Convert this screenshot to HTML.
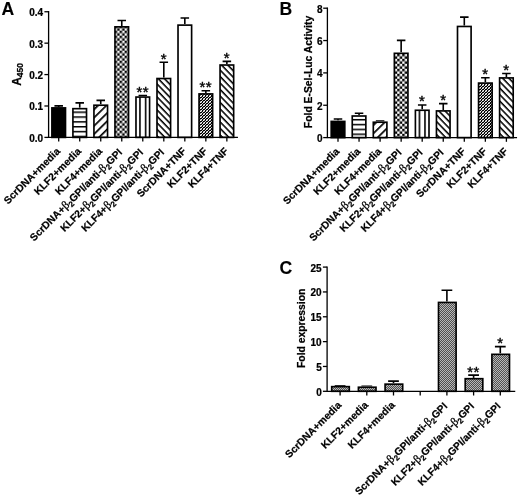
<!DOCTYPE html>
<html lang="en"><head><meta charset="utf-8"><title>Figure</title>
<style>html,body{margin:0;padding:0;background:#fff}svg{display:block;will-change:transform}text{font-family:"Liberation Sans",Arial,Helvetica,sans-serif;font-weight:bold;fill:#000;stroke:#000;stroke-width:0.22px}</style></head><body>
<svg width="520" height="496" viewBox="0 0 520 496">
<rect width="520" height="496" fill="#fff"/>
<text x="1.4" y="14.9" font-size="17.6" style="stroke-width:0.1px">A</text>
<text transform="translate(20.7 74.4) rotate(-90)" text-anchor="middle" font-size="12">A<tspan font-size="8.5" dy="2.4">450</tspan></text>
<defs><pattern id="p1" width="4.85" height="4.85" patternUnits="userSpaceOnUse" patternTransform="translate(0 111.45)"><rect width="4.85" height="4.85" fill="#fff"/><rect width="4.85" height="1.5" fill="#000"/></pattern></defs>
<defs><pattern id="p2" width="5.85" height="5.85" patternUnits="userSpaceOnUse" patternTransform="translate(94.6 117.1) rotate(-44.5) translate(0 -0.85)"><rect width="5.85" height="5.85" fill="#fff"/><rect width="5.85" height="1.7" fill="#000"/></pattern></defs>
<defs><pattern id="p3" width="5" height="5" patternUnits="userSpaceOnUse" patternTransform="translate(119.6 30.7)"><rect width="5" height="5" fill="#fff"/><rect width="2.5" height="2.5" fill="#000"/><rect x="2.5" y="2.5" width="2.5" height="2.5" fill="#000"/></pattern></defs>
<defs><pattern id="p4" width="5.6" height="5.6" patternUnits="userSpaceOnUse" patternTransform="translate(144.78 0)"><rect width="5.6" height="5.6" fill="#fff"/><rect width="1.6" height="5.6" fill="#000"/></pattern></defs>
<defs><pattern id="p5" width="4.5" height="4.5" patternUnits="userSpaceOnUse" patternTransform="translate(157.8 84.7) rotate(46) translate(0 -0.78)"><rect width="4.5" height="4.5" fill="#fff"/><rect width="4.5" height="1.55" fill="#000"/></pattern></defs>
<defs><pattern id="p6" width="3" height="3" patternUnits="userSpaceOnUse" patternTransform="translate(200 101)"><rect width="3" height="3" fill="#000"/><rect x="0" y="1" width="1" height="1" fill="#fff"/><rect x="1" y="0" width="1" height="1" fill="#fff"/><rect x="2" y="2" width="1" height="1" fill="#d8d8d8"/><rect x="0" y="0" width="1" height="1" fill="#808080"/><rect x="1" y="1" width="1" height="1" fill="#808080"/></pattern></defs>
<defs><pattern id="p7" width="4.5" height="4.5" patternUnits="userSpaceOnUse" patternTransform="translate(220.7 83.6) rotate(46) translate(0 -0.78)"><rect width="4.5" height="4.5" fill="#fff"/><rect width="4.5" height="1.55" fill="#000"/></pattern></defs>
<path d="M58.7 107.09 V105.83 M54.44 105.83 H62.96" stroke="#000" stroke-width="1.6" fill="none"/>
<rect x="51.1" y="107.09" width="15.2" height="30.31" fill="#fff"/>
<rect x="51.9" y="107.89" width="13.6" height="29.51" fill="#000" stroke="#000" stroke-width="1.65"/>
<path d="M79.72 107.87 V102.85 M75.46 102.85 H83.98" stroke="#000" stroke-width="1.6" fill="none"/>
<rect x="72.12" y="107.87" width="15.2" height="29.53" fill="#fff"/>
<rect x="72.92" y="108.67" width="13.6" height="28.73" fill="url(#p1)" stroke="#000" stroke-width="1.65"/>
<path d="M100.74 104.42 V100.33 M96.48 100.33 H105" stroke="#000" stroke-width="1.6" fill="none"/>
<rect x="93.14" y="104.42" width="15.2" height="32.98" fill="#fff"/>
<rect x="93.94" y="105.22" width="13.6" height="32.18" fill="url(#p2)" stroke="#000" stroke-width="1.65"/>
<path d="M121.76 26.04 V20.55 M117.5 20.55 H126.02" stroke="#000" stroke-width="1.6" fill="none"/>
<rect x="114.16" y="26.04" width="15.2" height="111.36" fill="#fff"/>
<rect x="114.96" y="26.84" width="13.6" height="110.56" fill="url(#p3)" stroke="#000" stroke-width="1.65"/>
<path d="M142.78 96.25 V95.62 M138.52 95.62 H147.04" stroke="#000" stroke-width="1.6" fill="none"/>
<rect x="135.18" y="96.25" width="15.2" height="41.15" fill="#fff"/>
<rect x="135.98" y="97.05" width="13.6" height="40.35" fill="url(#p4)" stroke="#000" stroke-width="1.65"/>
<text x="142.78" y="96.97" text-anchor="middle" font-size="15" style="font-weight:normal;stroke-width:0.4px;letter-spacing:0.4px">**</text>
<path d="M163.8 77.72 V62.32 M159.54 62.32 H168.06" stroke="#000" stroke-width="1.6" fill="none"/>
<rect x="156.2" y="77.72" width="15.2" height="59.68" fill="#fff"/>
<rect x="157" y="78.52" width="13.6" height="58.88" fill="url(#p5)" stroke="#000" stroke-width="1.65"/>
<text x="163.8" y="63.67" text-anchor="middle" font-size="15" style="font-weight:normal;stroke-width:0.4px;letter-spacing:0.4px">*</text>
<path d="M184.82 24.32 V18.03 M180.56 18.03 H189.08" stroke="#000" stroke-width="1.6" fill="none"/>
<rect x="177.22" y="24.32" width="15.2" height="113.08" fill="#fff"/>
<rect x="178.02" y="25.12" width="13.6" height="112.28" fill="#fff" stroke="#000" stroke-width="1.65"/>
<path d="M205.84 93.11 V90.75 M201.58 90.75 H210.1" stroke="#000" stroke-width="1.6" fill="none"/>
<rect x="198.24" y="93.11" width="15.2" height="44.29" fill="#fff"/>
<rect x="199.04" y="93.91" width="13.6" height="43.49" fill="url(#p6)" stroke="#000" stroke-width="1.65"/>
<text x="205.84" y="92.1" text-anchor="middle" font-size="15" style="font-weight:normal;stroke-width:0.4px;letter-spacing:0.4px">**</text>
<path d="M226.86 64.21 V61.38 M222.6 61.38 H231.12" stroke="#000" stroke-width="1.6" fill="none"/>
<rect x="219.26" y="64.21" width="15.2" height="73.19" fill="#fff"/>
<rect x="220.06" y="65.01" width="13.6" height="72.39" fill="url(#p7)" stroke="#000" stroke-width="1.65"/>
<text x="226.86" y="62.73" text-anchor="middle" font-size="15" style="font-weight:normal;stroke-width:0.4px;letter-spacing:0.4px">*</text>
<path d="M48.6 11.75 V137.4 H237.3" stroke="#000" stroke-width="1.3" fill="none" stroke-linecap="square"/>
<path d="M44.4 137.4 H48.6" stroke="#000" stroke-width="1.3"/>
<text x="43.2" y="141.8" text-anchor="end" font-size="10">0.0</text>
<path d="M44.4 105.99 H48.6" stroke="#000" stroke-width="1.3"/>
<text x="43.2" y="110.39" text-anchor="end" font-size="10">0.1</text>
<path d="M44.4 74.58 H48.6" stroke="#000" stroke-width="1.3"/>
<text x="43.2" y="78.98" text-anchor="end" font-size="10">0.2</text>
<path d="M44.4 43.16 H48.6" stroke="#000" stroke-width="1.3"/>
<text x="43.2" y="47.56" text-anchor="end" font-size="10">0.3</text>
<path d="M44.4 11.75 H48.6" stroke="#000" stroke-width="1.3"/>
<text x="43.2" y="16.15" text-anchor="end" font-size="10">0.4</text>
<path d="M58.7 137.4 V141.6" stroke="#000" stroke-width="1.3"/>
<path d="M79.72 137.4 V141.6" stroke="#000" stroke-width="1.3"/>
<path d="M100.74 137.4 V141.6" stroke="#000" stroke-width="1.3"/>
<path d="M121.76 137.4 V141.6" stroke="#000" stroke-width="1.3"/>
<path d="M142.78 137.4 V141.6" stroke="#000" stroke-width="1.3"/>
<path d="M163.8 137.4 V141.6" stroke="#000" stroke-width="1.3"/>
<path d="M184.82 137.4 V141.6" stroke="#000" stroke-width="1.3"/>
<path d="M205.84 137.4 V141.6" stroke="#000" stroke-width="1.3"/>
<path d="M226.86 137.4 V141.6" stroke="#000" stroke-width="1.3"/>
<text transform="translate(60.7 151.9) rotate(-45)" text-anchor="end" font-size="10.3">ScrDNA+media</text>
<text transform="translate(81.72 151.9) rotate(-45)" text-anchor="end" font-size="10.3">KLF2+media</text>
<text transform="translate(102.74 151.9) rotate(-45)" text-anchor="end" font-size="10.3">KLF4+media</text>
<text transform="translate(122.86 152.9) rotate(-45)" text-anchor="end" font-size="10.3">ScrDNA+<tspan font-family="'Liberation Serif',serif" font-weight="normal" font-size="11.54" stroke="#000" stroke-width="0.3">β</tspan><tspan font-size="7.83" dy="2.4">2</tspan><tspan dy="-2.4">GPI/anti-</tspan><tspan font-family="'Liberation Serif',serif" font-weight="normal" font-size="11.54" stroke="#000" stroke-width="0.3">β</tspan><tspan font-size="7.83" dy="2.4">2</tspan><tspan dy="-2.4">GPI</tspan></text>
<text transform="translate(143.88 152.9) rotate(-45)" text-anchor="end" font-size="10.3">KLF2+<tspan font-family="'Liberation Serif',serif" font-weight="normal" font-size="11.54" stroke="#000" stroke-width="0.3">β</tspan><tspan font-size="7.83" dy="2.4">2</tspan><tspan dy="-2.4">GPI/anti-</tspan><tspan font-family="'Liberation Serif',serif" font-weight="normal" font-size="11.54" stroke="#000" stroke-width="0.3">β</tspan><tspan font-size="7.83" dy="2.4">2</tspan><tspan dy="-2.4">GPI</tspan></text>
<text transform="translate(164.9 152.9) rotate(-45)" text-anchor="end" font-size="10.3">KLF4+<tspan font-family="'Liberation Serif',serif" font-weight="normal" font-size="11.54" stroke="#000" stroke-width="0.3">β</tspan><tspan font-size="7.83" dy="2.4">2</tspan><tspan dy="-2.4">GPI/anti-</tspan><tspan font-family="'Liberation Serif',serif" font-weight="normal" font-size="11.54" stroke="#000" stroke-width="0.3">β</tspan><tspan font-size="7.83" dy="2.4">2</tspan><tspan dy="-2.4">GPI</tspan></text>
<text transform="translate(186.82 151.9) rotate(-45)" text-anchor="end" font-size="10.3">ScrDNA+TNF</text>
<text transform="translate(207.84 151.9) rotate(-45)" text-anchor="end" font-size="10.3">KLF2+TNF</text>
<text transform="translate(228.86 151.9) rotate(-45)" text-anchor="end" font-size="10.3">KLF4+TNF</text>
<text x="279.6" y="14.9" font-size="17.6" style="stroke-width:0.1px">B</text>
<text transform="translate(311.5 72) rotate(-90)" text-anchor="middle" font-size="10.35">Fold E-Sel-Luc Activity</text>
<defs><pattern id="p8" width="4.85" height="4.85" patternUnits="userSpaceOnUse" patternTransform="translate(0 118.95)"><rect width="4.85" height="4.85" fill="#fff"/><rect width="4.85" height="1.5" fill="#000"/></pattern></defs>
<defs><pattern id="p9" width="5.85" height="5.85" patternUnits="userSpaceOnUse" patternTransform="translate(373.8 133) rotate(-44.5) translate(0 -0.85)"><rect width="5.85" height="5.85" fill="#fff"/><rect width="5.85" height="1.7" fill="#000"/></pattern></defs>
<defs><pattern id="p10" width="5" height="5" patternUnits="userSpaceOnUse" patternTransform="translate(397.2 53.8)"><rect width="5" height="5" fill="#fff"/><rect width="2.5" height="2.5" fill="#000"/><rect x="2.5" y="2.5" width="2.5" height="2.5" fill="#000"/></pattern></defs>
<defs><pattern id="p11" width="5.6" height="5.6" patternUnits="userSpaceOnUse" patternTransform="translate(424.2 0)"><rect width="5.6" height="5.6" fill="#fff"/><rect width="1.6" height="5.6" fill="#000"/></pattern></defs>
<defs><pattern id="p12" width="4.5" height="4.5" patternUnits="userSpaceOnUse" patternTransform="translate(436.9 115.4) rotate(46) translate(0 -0.78)"><rect width="4.5" height="4.5" fill="#fff"/><rect width="4.5" height="1.55" fill="#000"/></pattern></defs>
<defs><pattern id="p13" width="3" height="3" patternUnits="userSpaceOnUse" patternTransform="translate(479 84)"><rect width="3" height="3" fill="#000"/><rect x="0" y="1" width="1" height="1" fill="#fff"/><rect x="1" y="0" width="1" height="1" fill="#fff"/><rect x="2" y="2" width="1" height="1" fill="#d8d8d8"/><rect x="0" y="0" width="1" height="1" fill="#808080"/><rect x="1" y="1" width="1" height="1" fill="#808080"/></pattern></defs>
<defs><pattern id="p14" width="4.5" height="4.5" patternUnits="userSpaceOnUse" patternTransform="translate(499.7 81.6) rotate(46) translate(0 -0.78)"><rect width="4.5" height="4.5" fill="#fff"/><rect width="4.5" height="1.55" fill="#000"/></pattern></defs>
<path d="M338 120.62 V119 M333.74 119 H342.26" stroke="#000" stroke-width="1.6" fill="none"/>
<rect x="330.4" y="120.62" width="15.2" height="16.98" fill="#fff"/>
<rect x="331.2" y="121.42" width="13.6" height="16.18" fill="#000" stroke="#000" stroke-width="1.65"/>
<path d="M359.05 115.2 V113.18 M354.79 113.18 H363.31" stroke="#000" stroke-width="1.6" fill="none"/>
<rect x="351.45" y="115.2" width="15.2" height="22.4" fill="#fff"/>
<rect x="352.25" y="116" width="13.6" height="21.6" fill="url(#p8)" stroke="#000" stroke-width="1.65"/>
<path d="M380.1 121.42 V120.94 M375.84 120.94 H384.36" stroke="#000" stroke-width="1.6" fill="none"/>
<rect x="372.5" y="121.42" width="15.2" height="16.17" fill="#fff"/>
<rect x="373.3" y="122.22" width="13.6" height="15.37" fill="url(#p9)" stroke="#000" stroke-width="1.65"/>
<path d="M401.15 52.52 V40.39 M396.89 40.39 H405.41" stroke="#000" stroke-width="1.6" fill="none"/>
<rect x="393.55" y="52.52" width="15.2" height="85.08" fill="#fff"/>
<rect x="394.35" y="53.32" width="13.6" height="84.28" fill="url(#p10)" stroke="#000" stroke-width="1.65"/>
<path d="M422.2 109.46 V104.93 M417.94 104.93 H426.46" stroke="#000" stroke-width="1.6" fill="none"/>
<rect x="414.6" y="109.46" width="15.2" height="28.14" fill="#fff"/>
<rect x="415.4" y="110.26" width="13.6" height="27.34" fill="url(#p11)" stroke="#000" stroke-width="1.65"/>
<text x="422.2" y="106.28" text-anchor="middle" font-size="15" style="font-weight:normal;stroke-width:0.4px;letter-spacing:0.4px">*</text>
<path d="M443.25 110.1 V103.63 M438.99 103.63 H447.51" stroke="#000" stroke-width="1.6" fill="none"/>
<rect x="435.65" y="110.1" width="15.2" height="27.5" fill="#fff"/>
<rect x="436.45" y="110.9" width="13.6" height="26.7" fill="url(#p12)" stroke="#000" stroke-width="1.65"/>
<text x="443.25" y="104.98" text-anchor="middle" font-size="15" style="font-weight:normal;stroke-width:0.4px;letter-spacing:0.4px">*</text>
<path d="M464.3 25.67 V17.1 M460.04 17.1 H468.56" stroke="#000" stroke-width="1.6" fill="none"/>
<rect x="456.7" y="25.67" width="15.2" height="111.93" fill="#fff"/>
<rect x="457.5" y="26.47" width="13.6" height="111.13" fill="#fff" stroke="#000" stroke-width="1.65"/>
<path d="M485.35 82.28 V77.75 M481.09 77.75 H489.61" stroke="#000" stroke-width="1.6" fill="none"/>
<rect x="477.75" y="82.28" width="15.2" height="55.32" fill="#fff"/>
<rect x="478.55" y="83.08" width="13.6" height="54.52" fill="url(#p13)" stroke="#000" stroke-width="1.65"/>
<text x="485.35" y="79.1" text-anchor="middle" font-size="15" style="font-weight:normal;stroke-width:0.4px;letter-spacing:0.4px">*</text>
<path d="M506.4 77.11 V73.55 M502.14 73.55 H510.66" stroke="#000" stroke-width="1.6" fill="none"/>
<rect x="498.8" y="77.11" width="15.2" height="60.49" fill="#fff"/>
<rect x="499.6" y="77.91" width="13.6" height="59.69" fill="url(#p14)" stroke="#000" stroke-width="1.65"/>
<text x="506.4" y="74.9" text-anchor="middle" font-size="15" style="font-weight:normal;stroke-width:0.4px;letter-spacing:0.4px">*</text>
<path d="M327.4 8.2 V137.6 H516.4" stroke="#000" stroke-width="1.3" fill="none" stroke-linecap="square"/>
<path d="M323.2 137.6 H327.4" stroke="#000" stroke-width="1.3"/>
<text x="322.5" y="142" text-anchor="end" font-size="10">0</text>
<path d="M323.2 105.25 H327.4" stroke="#000" stroke-width="1.3"/>
<text x="322.5" y="109.65" text-anchor="end" font-size="10">2</text>
<path d="M323.2 72.9 H327.4" stroke="#000" stroke-width="1.3"/>
<text x="322.5" y="77.3" text-anchor="end" font-size="10">4</text>
<path d="M323.2 40.55 H327.4" stroke="#000" stroke-width="1.3"/>
<text x="322.5" y="44.95" text-anchor="end" font-size="10">6</text>
<path d="M323.2 8.2 H327.4" stroke="#000" stroke-width="1.3"/>
<text x="322.5" y="12.6" text-anchor="end" font-size="10">8</text>
<path d="M338 137.6 V141.8" stroke="#000" stroke-width="1.3"/>
<path d="M359.05 137.6 V141.8" stroke="#000" stroke-width="1.3"/>
<path d="M380.1 137.6 V141.8" stroke="#000" stroke-width="1.3"/>
<path d="M401.15 137.6 V141.8" stroke="#000" stroke-width="1.3"/>
<path d="M422.2 137.6 V141.8" stroke="#000" stroke-width="1.3"/>
<path d="M443.25 137.6 V141.8" stroke="#000" stroke-width="1.3"/>
<path d="M464.3 137.6 V141.8" stroke="#000" stroke-width="1.3"/>
<path d="M485.35 137.6 V141.8" stroke="#000" stroke-width="1.3"/>
<path d="M506.4 137.6 V141.8" stroke="#000" stroke-width="1.3"/>
<text transform="translate(340 152.1) rotate(-45)" text-anchor="end" font-size="10.3">ScrDNA+media</text>
<text transform="translate(361.05 152.1) rotate(-45)" text-anchor="end" font-size="10.3">KLF2+media</text>
<text transform="translate(382.1 152.1) rotate(-45)" text-anchor="end" font-size="10.3">KLF4+media</text>
<text transform="translate(402.25 153.1) rotate(-45)" text-anchor="end" font-size="10.3">ScrDNA+<tspan font-family="'Liberation Serif',serif" font-weight="normal" font-size="11.54" stroke="#000" stroke-width="0.3">β</tspan><tspan font-size="7.83" dy="2.4">2</tspan><tspan dy="-2.4">GPI/anti-</tspan><tspan font-family="'Liberation Serif',serif" font-weight="normal" font-size="11.54" stroke="#000" stroke-width="0.3">β</tspan><tspan font-size="7.83" dy="2.4">2</tspan><tspan dy="-2.4">GPI</tspan></text>
<text transform="translate(423.3 153.1) rotate(-45)" text-anchor="end" font-size="10.3">KLF2+<tspan font-family="'Liberation Serif',serif" font-weight="normal" font-size="11.54" stroke="#000" stroke-width="0.3">β</tspan><tspan font-size="7.83" dy="2.4">2</tspan><tspan dy="-2.4">GPI/anti-</tspan><tspan font-family="'Liberation Serif',serif" font-weight="normal" font-size="11.54" stroke="#000" stroke-width="0.3">β</tspan><tspan font-size="7.83" dy="2.4">2</tspan><tspan dy="-2.4">GPI</tspan></text>
<text transform="translate(444.35 153.1) rotate(-45)" text-anchor="end" font-size="10.3">KLF4+<tspan font-family="'Liberation Serif',serif" font-weight="normal" font-size="11.54" stroke="#000" stroke-width="0.3">β</tspan><tspan font-size="7.83" dy="2.4">2</tspan><tspan dy="-2.4">GPI/anti-</tspan><tspan font-family="'Liberation Serif',serif" font-weight="normal" font-size="11.54" stroke="#000" stroke-width="0.3">β</tspan><tspan font-size="7.83" dy="2.4">2</tspan><tspan dy="-2.4">GPI</tspan></text>
<text transform="translate(466.3 152.1) rotate(-45)" text-anchor="end" font-size="10.3">ScrDNA+TNF</text>
<text transform="translate(487.35 152.1) rotate(-45)" text-anchor="end" font-size="10.3">KLF2+TNF</text>
<text transform="translate(508.4 152.1) rotate(-45)" text-anchor="end" font-size="10.3">KLF4+TNF</text>
<text x="279.5" y="274" font-size="17.6" style="stroke-width:0.1px">C</text>
<text transform="translate(305.3 328.3) rotate(-90)" text-anchor="middle" font-size="10.35">Fold expression</text>
<defs><pattern id="p15" width="2" height="2" patternUnits="userSpaceOnUse"><rect width="2" height="2" fill="#505050"/><rect width="1" height="1" fill="#b8b8b8"/><rect x="1" y="1" width="1" height="1" fill="#b8b8b8"/></pattern></defs>
<path d="M340.1 385.84 V385.84 M334.72 385.84 H345.48" stroke="#000" stroke-width="1.6" fill="none"/>
<rect x="330.9" y="385.84" width="19.2" height="5.46" fill="#fff"/>
<rect x="331.7" y="386.64" width="17.6" height="4.66" fill="url(#p15)" stroke="#000" stroke-width="1.65"/>
<path d="M366.8 386.43 V386.28 M361.42 386.28 H372.18" stroke="#000" stroke-width="1.6" fill="none"/>
<rect x="357.6" y="386.43" width="19.2" height="4.87" fill="#fff"/>
<rect x="358.4" y="387.23" width="17.6" height="4.07" fill="url(#p15)" stroke="#000" stroke-width="1.65"/>
<path d="M393.5 383.35 V381.12 M388.12 381.12 H398.88" stroke="#000" stroke-width="1.6" fill="none"/>
<rect x="384.3" y="383.35" width="19.2" height="7.95" fill="#fff"/>
<rect x="385.1" y="384.15" width="17.6" height="7.15" fill="url(#p15)" stroke="#000" stroke-width="1.65"/>
<path d="M446.9 301.63 V290.2 M441.52 290.2 H452.28" stroke="#000" stroke-width="1.6" fill="none"/>
<rect x="437.7" y="301.63" width="19.2" height="89.67" fill="#fff"/>
<rect x="438.5" y="302.43" width="17.6" height="88.87" fill="url(#p15)" stroke="#000" stroke-width="1.65"/>
<path d="M473.6 377.89 V375.15 M468.22 375.15 H478.98" stroke="#000" stroke-width="1.6" fill="none"/>
<rect x="464.4" y="377.89" width="19.2" height="13.41" fill="#fff"/>
<rect x="465.2" y="378.69" width="17.6" height="12.61" fill="url(#p15)" stroke="#000" stroke-width="1.65"/>
<text x="473.6" y="376.5" text-anchor="middle" font-size="15" style="font-weight:normal;stroke-width:0.4px;letter-spacing:0.4px">**</text>
<path d="M500.3 353.54 V346.59 M494.92 346.59 H505.68" stroke="#000" stroke-width="1.6" fill="none"/>
<rect x="491.1" y="353.54" width="19.2" height="37.76" fill="#fff"/>
<rect x="491.9" y="354.34" width="17.6" height="36.96" fill="url(#p15)" stroke="#000" stroke-width="1.65"/>
<text x="500.3" y="347.94" text-anchor="middle" font-size="15" style="font-weight:normal;stroke-width:0.4px;letter-spacing:0.4px">*</text>
<path d="M327.1 267.1 V391.3 H514.6" stroke="#000" stroke-width="1.3" fill="none" stroke-linecap="square"/>
<path d="M322.9 391.3 H327.1" stroke="#000" stroke-width="1.3"/>
<text x="321.7" y="395.7" text-anchor="end" font-size="10">0</text>
<path d="M322.9 366.46 H327.1" stroke="#000" stroke-width="1.3"/>
<text x="321.7" y="370.86" text-anchor="end" font-size="10">5</text>
<path d="M322.9 341.62 H327.1" stroke="#000" stroke-width="1.3"/>
<text x="321.7" y="346.02" text-anchor="end" font-size="10">10</text>
<path d="M322.9 316.78 H327.1" stroke="#000" stroke-width="1.3"/>
<text x="321.7" y="321.18" text-anchor="end" font-size="10">15</text>
<path d="M322.9 291.94 H327.1" stroke="#000" stroke-width="1.3"/>
<text x="321.7" y="296.34" text-anchor="end" font-size="10">20</text>
<path d="M322.9 267.1 H327.1" stroke="#000" stroke-width="1.3"/>
<text x="321.7" y="271.5" text-anchor="end" font-size="10">25</text>
<path d="M340.1 391.3 V395.5" stroke="#000" stroke-width="1.3"/>
<path d="M366.8 391.3 V395.5" stroke="#000" stroke-width="1.3"/>
<path d="M393.5 391.3 V395.5" stroke="#000" stroke-width="1.3"/>
<path d="M420.2 391.3 V395.5" stroke="#000" stroke-width="1.3"/>
<path d="M446.9 391.3 V395.5" stroke="#000" stroke-width="1.3"/>
<path d="M473.6 391.3 V395.5" stroke="#000" stroke-width="1.3"/>
<path d="M500.3 391.3 V395.5" stroke="#000" stroke-width="1.3"/>
<text transform="translate(342.1 405.8) rotate(-45)" text-anchor="end" font-size="10.3">ScrDNA+media</text>
<text transform="translate(368.8 405.8) rotate(-45)" text-anchor="end" font-size="10.3">KLF2+media</text>
<text transform="translate(395.5 405.8) rotate(-45)" text-anchor="end" font-size="10.3">KLF4+media</text>
<text transform="translate(448 406.8) rotate(-45)" text-anchor="end" font-size="10.3">ScrDNA+<tspan font-family="'Liberation Serif',serif" font-weight="normal" font-size="11.54" stroke="#000" stroke-width="0.3">β</tspan><tspan font-size="7.83" dy="2.4">2</tspan><tspan dy="-2.4">GPI/anti-</tspan><tspan font-family="'Liberation Serif',serif" font-weight="normal" font-size="11.54" stroke="#000" stroke-width="0.3">β</tspan><tspan font-size="7.83" dy="2.4">2</tspan><tspan dy="-2.4">GPI</tspan></text>
<text transform="translate(474.7 406.8) rotate(-45)" text-anchor="end" font-size="10.3">KLF2+<tspan font-family="'Liberation Serif',serif" font-weight="normal" font-size="11.54" stroke="#000" stroke-width="0.3">β</tspan><tspan font-size="7.83" dy="2.4">2</tspan><tspan dy="-2.4">GPI/anti-</tspan><tspan font-family="'Liberation Serif',serif" font-weight="normal" font-size="11.54" stroke="#000" stroke-width="0.3">β</tspan><tspan font-size="7.83" dy="2.4">2</tspan><tspan dy="-2.4">GPI</tspan></text>
<text transform="translate(501.4 406.8) rotate(-45)" text-anchor="end" font-size="10.3">KLF4+<tspan font-family="'Liberation Serif',serif" font-weight="normal" font-size="11.54" stroke="#000" stroke-width="0.3">β</tspan><tspan font-size="7.83" dy="2.4">2</tspan><tspan dy="-2.4">GPI/anti-</tspan><tspan font-family="'Liberation Serif',serif" font-weight="normal" font-size="11.54" stroke="#000" stroke-width="0.3">β</tspan><tspan font-size="7.83" dy="2.4">2</tspan><tspan dy="-2.4">GPI</tspan></text>
</svg></body></html>
